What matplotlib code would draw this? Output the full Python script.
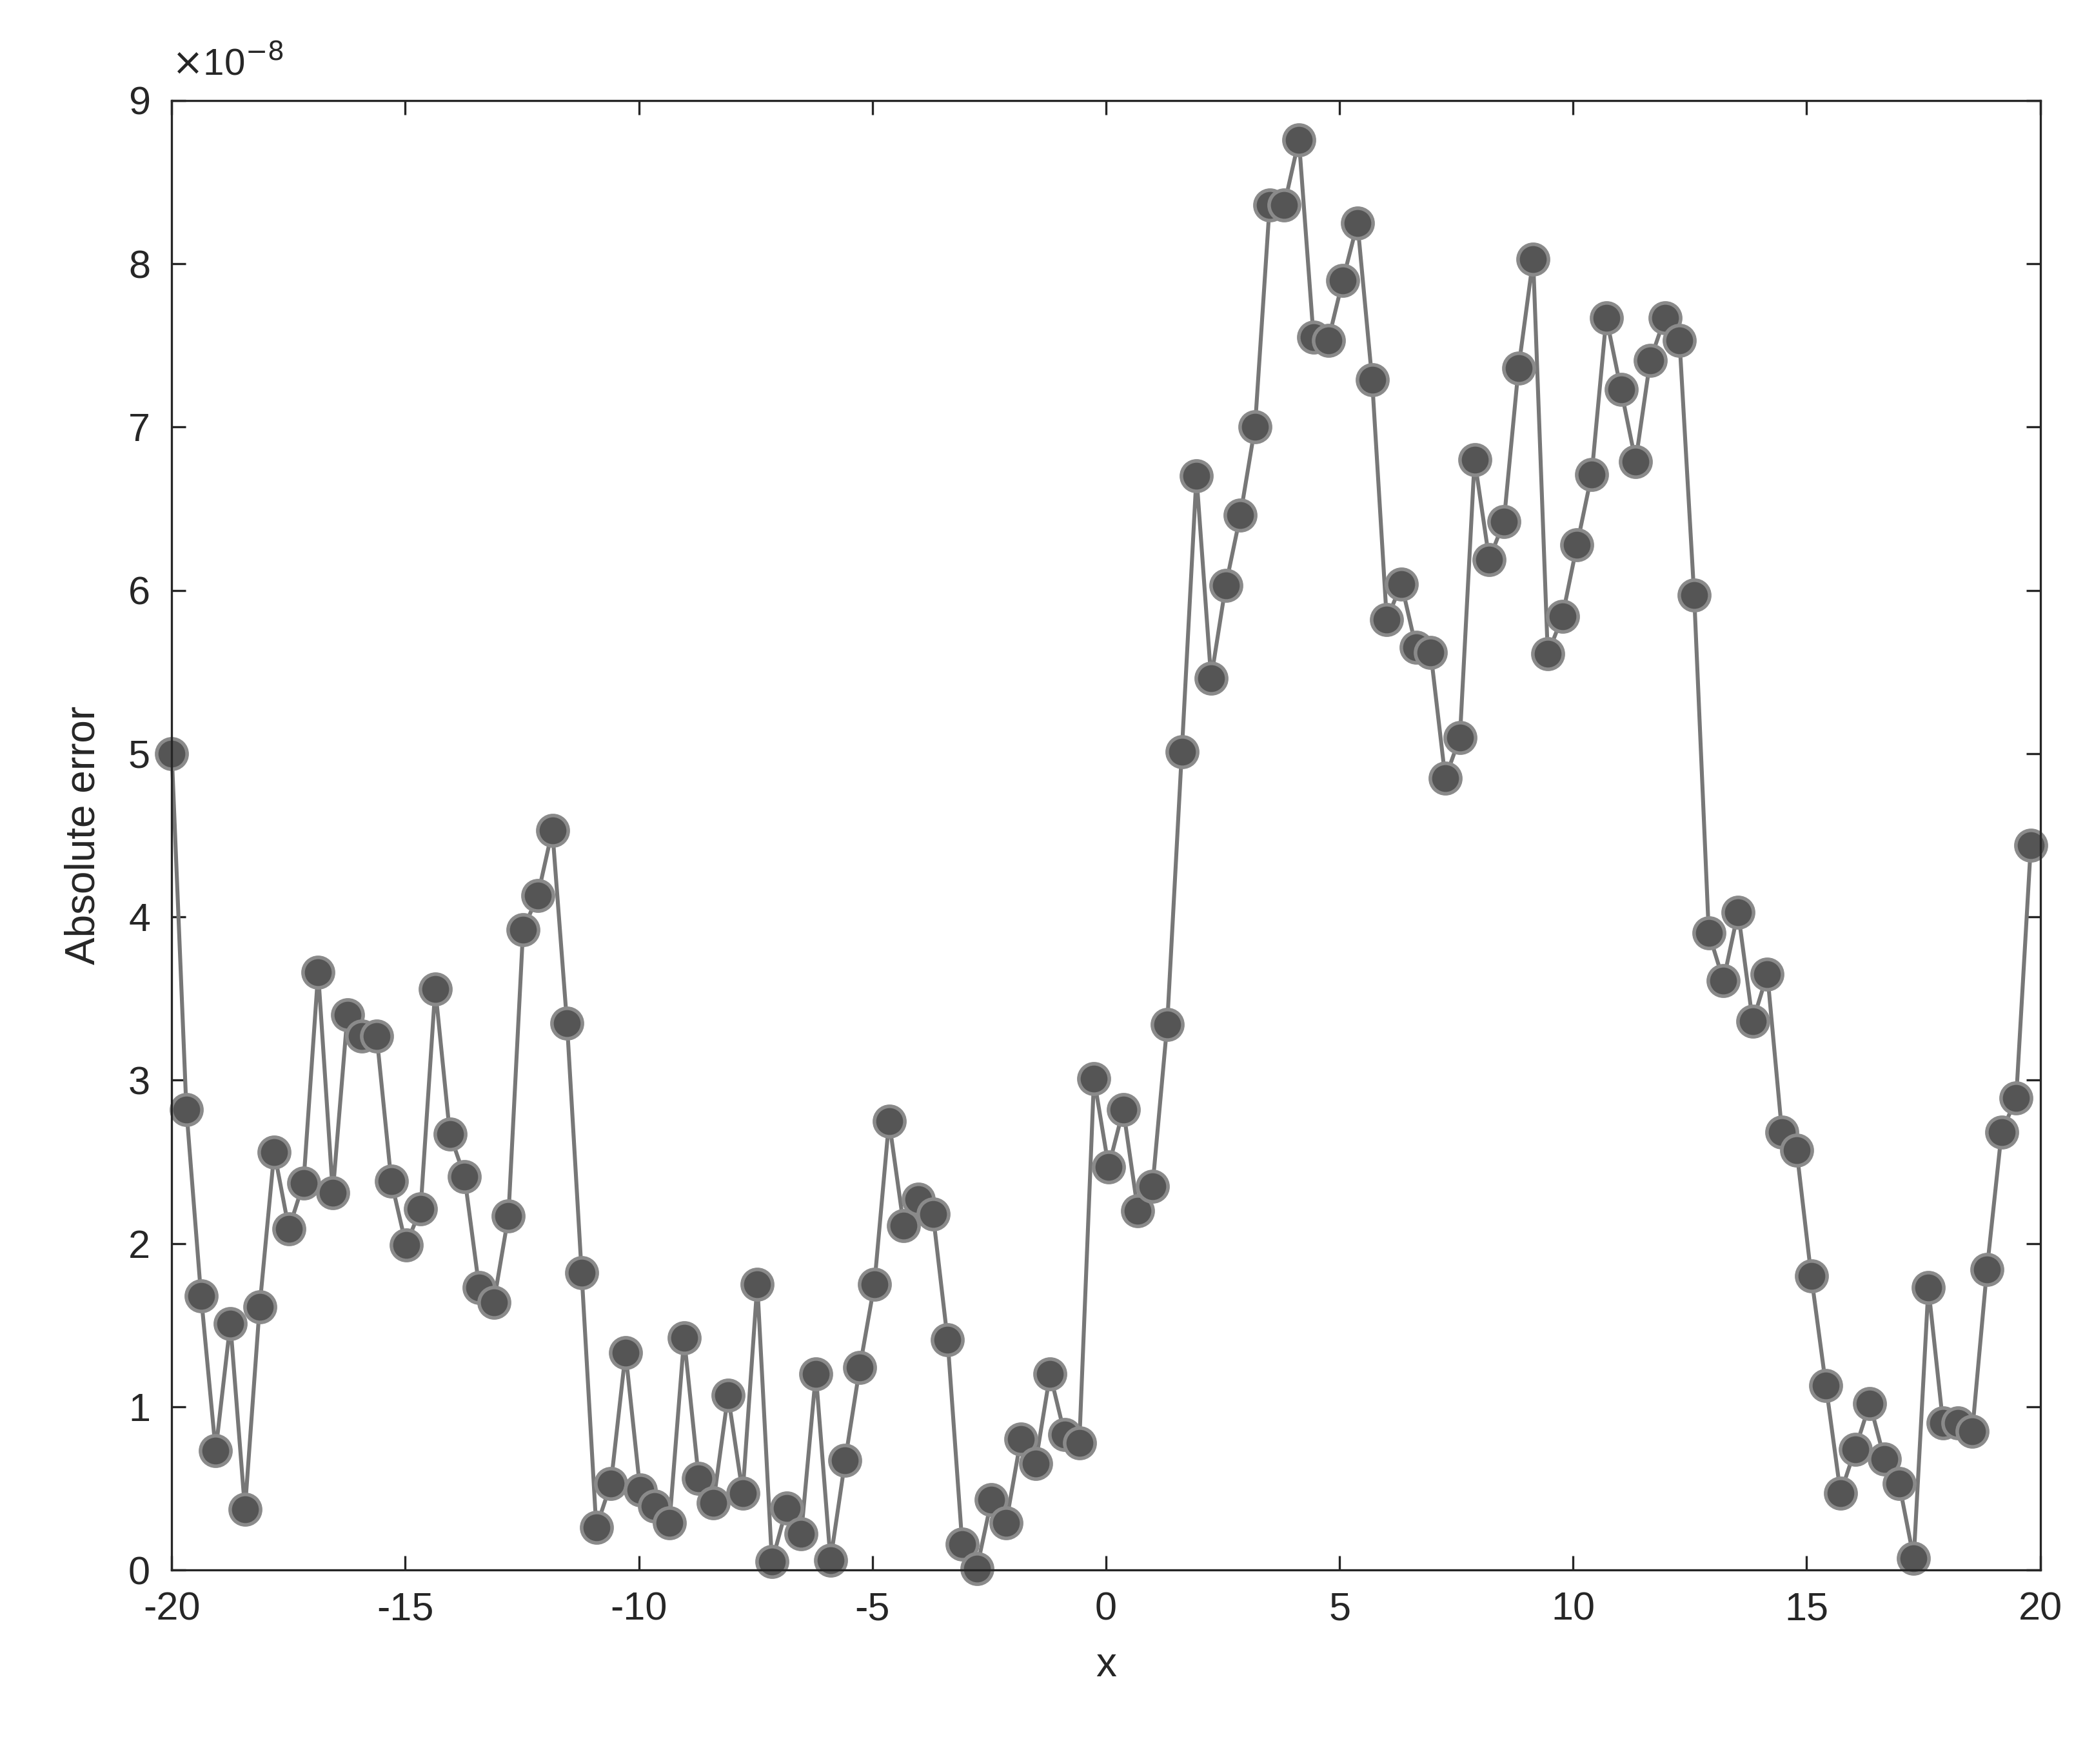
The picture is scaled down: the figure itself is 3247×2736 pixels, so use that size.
import numpy as np
import matplotlib.pyplot as plt

# -----------------------------
# Data (units of 1e-8)
# -----------------------------
err = [5.00, 2.82, 1.68, 0.73, 1.51, 0.37, 1.61, 2.56, 2.09, 2.37,
       3.66, 2.31, 3.40, 3.27, 3.27, 2.38, 1.99, 2.21, 3.56, 2.67,
       2.41, 1.73, 1.64, 2.17, 3.92, 4.13, 4.53, 3.35, 1.82, 0.26,
       0.53, 1.33, 0.49, 0.39, 0.29, 1.42, 0.56, 0.41, 1.07, 0.47,
       1.75, 0.05, 0.38, 0.22, 1.20, 0.06, 0.67, 1.24, 1.75, 2.75,
       2.11, 2.27, 2.18, 1.41, 0.16, 0.01, 0.43, 0.29, 0.80, 0.65,
       1.20, 0.83, 0.78, 3.01, 2.47, 2.82, 2.20, 2.35, 3.34, 5.01,
       6.70, 5.46, 6.03, 6.46, 7.00, 8.36, 8.36, 8.76, 7.55, 7.53,
       7.90, 8.25, 7.29, 5.82, 6.04, 5.65, 5.62, 4.85, 5.10, 6.80,
       6.19, 6.42, 7.36, 8.03, 5.61, 5.84, 6.28, 6.71, 7.67, 7.23,
       6.79, 7.41, 7.67, 7.53, 5.97, 3.90, 3.61, 4.03, 3.36, 3.65,
       2.68, 2.57, 1.80, 1.13, 0.47, 0.74, 1.02, 0.68, 0.53, 0.07,
       1.73, 0.90, 0.90, 0.85, 1.84, 2.68, 2.89, 4.44]
x = np.linspace(-20, 19.8, len(err))
y = np.array(err) * 1e-8

xticks = [-20, -15, -10, -5, 0, 5, 10, 15, 20]
xticklabels = ["-20", "-15", "-10", "-5", "0", "5", "10", "15", "20"]

# -----------------------------
# Plot
# -----------------------------
plt.rcParams['font.family'] = ['Liberation Sans', 'DejaVu Sans']
fig = plt.figure(figsize=(16.24, 13.68), dpi=200)
ax = fig.add_axes([0.082, 0.11, 0.892, 0.833])

ax.plot(x, y, '-o', color='#777777', lw=2.2, marker='o', markersize=17,
        markerfacecolor='#555555', markeredgecolor='#8a8a8a', markeredgewidth=2,
        clip_on=False)

ax.set_xlim(-20, 20)
ax.set_ylim(0, 9e-8)
ax.set_xticks(xticks)
ax.set_xticklabels(xticklabels)
ax.set_yticks(np.arange(0, 10) * 1e-8)
ax.set_yticklabels([str(i) for i in range(10)])
ax.tick_params(direction='in', length=8, width=1.2, labelsize=22, pad=12,
               top=True, right=True, colors='#262626')
for s in ax.spines.values():
    s.set_linewidth(1.2)
    s.set_color('#262626')

ax.text(0.0, 1.012, r'$\times$10$^{-8}$', transform=ax.transAxes,
        fontsize=21, color='#262626', ha='left', va='bottom')
ax.set_xlabel("x", fontsize=23, color='#262626', labelpad=10)
ax.set_ylabel("Absolute error", fontsize=23, color='#262626', labelpad=14)

fig.savefig("out.png", dpi=200)
